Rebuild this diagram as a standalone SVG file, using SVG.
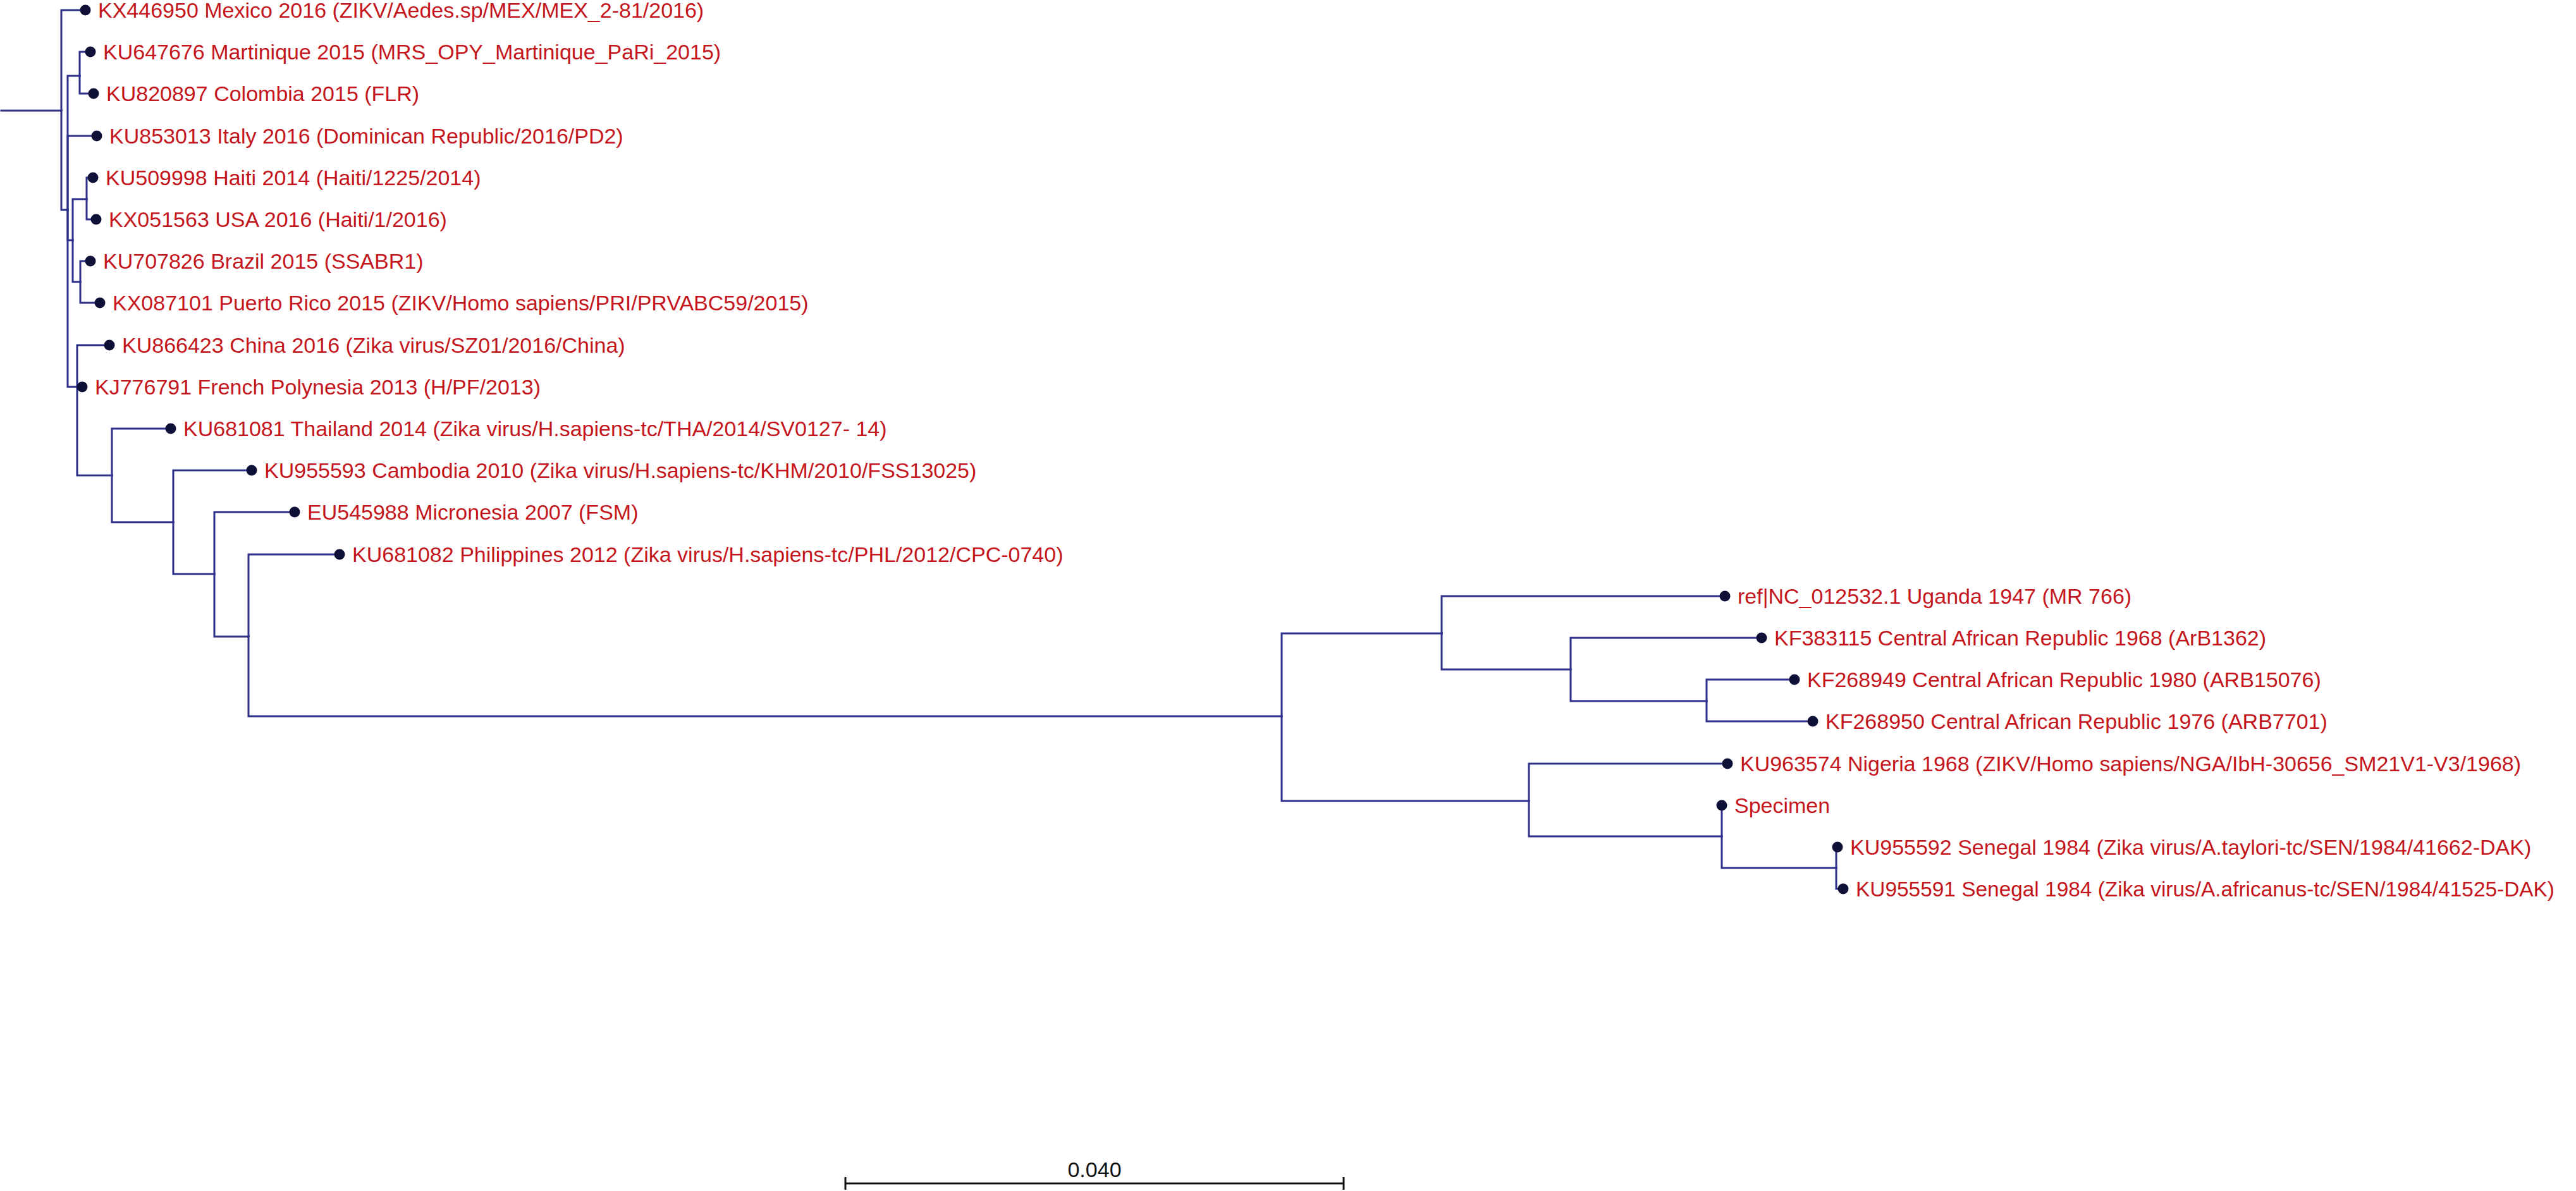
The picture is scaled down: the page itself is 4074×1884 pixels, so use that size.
<svg xmlns="http://www.w3.org/2000/svg" width="4074" height="1884" viewBox="0 0 4074 1884">
<style>
.e{fill:none;stroke:#2f2f8c;stroke-width:3;stroke-linecap:square}
.d{fill:#0f1038}
.t{font-family:"Liberation Sans",Arial,sans-serif;font-size:34px;fill:#c4161c}
.s{fill:none;stroke:#111;stroke-width:3}
.sl{font-family:"Liberation Sans",Arial,sans-serif;font-size:34px;fill:#111}
</style>
<rect width="4074" height="1884" fill="#fff"/>
<g id="connectors">
<path class="e" d="M2,175 H97"/>
<path class="e" d="M97,175 V16 H135"/>
<path class="e" d="M97,175 V332 H107"/>
<path class="e" d="M107,332 V120 H126"/>
<path class="e" d="M107,332 V215 H153"/>
<path class="e" d="M107,332 V380 H115"/>
<path class="e" d="M107,332 V612 H122"/>
<path class="e" d="M126,120 V82 H143"/>
<path class="e" d="M126,120 V148 H148"/>
<path class="e" d="M115,380 V315 H137"/>
<path class="e" d="M115,380 V446 H127"/>
<path class="e" d="M137,315 V281 H147"/>
<path class="e" d="M137,315 V347 H152"/>
<path class="e" d="M127,446 V413 H143"/>
<path class="e" d="M127,446 V479 H158"/>
<path class="e" d="M122,612 V546 H173"/>
<path class="e" d="M122,612 V612 H130"/>
<path class="e" d="M122,612 V752 H177"/>
<path class="e" d="M177,752 V678 H270"/>
<path class="e" d="M177,752 V826 H274"/>
<path class="e" d="M274,826 V744 H398"/>
<path class="e" d="M274,826 V908 H339"/>
<path class="e" d="M339,908 V810 H466"/>
<path class="e" d="M339,908 V1007 H393"/>
<path class="e" d="M393,1007 V877 H537"/>
<path class="e" d="M393,1007 V1133 H2027"/>
<path class="e" d="M2027,1133 V1002 H2280"/>
<path class="e" d="M2027,1133 V1267 H2418"/>
<path class="e" d="M2280,1002 V943 H2728"/>
<path class="e" d="M2280,1002 V1059 H2484"/>
<path class="e" d="M2484,1059 V1009 H2786"/>
<path class="e" d="M2484,1059 V1109 H2699"/>
<path class="e" d="M2699,1109 V1075 H2838"/>
<path class="e" d="M2699,1109 V1141 H2867"/>
<path class="e" d="M2418,1267 V1208 H2732"/>
<path class="e" d="M2418,1267 V1323 H2723"/>
<path class="e" d="M2723,1323 V1274"/>
<path class="e" d="M2723,1323 V1373 H2904"/>
<path class="e" d="M2904,1373 V1340 H2906"/>
<path class="e" d="M2904,1373 V1406 H2915"/>
</g>
<g id="n1"><circle class="d" cx="135" cy="16" r="8.5"/><text class="t" x="155" y="28">KX446950 Mexico 2016 (ZIKV/Aedes.sp/MEX/MEX_2-81/2016)</text></g>
<g id="n2"><circle class="d" cx="143" cy="82" r="8.5"/><text class="t" x="163" y="94">KU647676 Martinique 2015 (MRS_OPY_Martinique_PaRi_2015)</text></g>
<g id="n3"><circle class="d" cx="148" cy="148" r="8.5"/><text class="t" x="168" y="160">KU820897 Colombia 2015 (FLR)</text></g>
<g id="n4"><circle class="d" cx="153" cy="215" r="8.5"/><text class="t" x="173" y="227">KU853013 Italy 2016 (Dominican Republic/2016/PD2)</text></g>
<g id="n5"><circle class="d" cx="147" cy="281" r="8.5"/><text class="t" x="167" y="293">KU509998 Haiti 2014 (Haiti/1225/2014)</text></g>
<g id="n6"><circle class="d" cx="152" cy="347" r="8.5"/><text class="t" x="172" y="359">KX051563 USA 2016 (Haiti/1/2016)</text></g>
<g id="n7"><circle class="d" cx="143" cy="413" r="8.5"/><text class="t" x="163" y="425">KU707826 Brazil 2015 (SSABR1)</text></g>
<g id="n8"><circle class="d" cx="158" cy="479" r="8.5"/><text class="t" x="178" y="491">KX087101 Puerto Rico 2015 (ZIKV/Homo sapiens/PRI/PRVABC59/2015)</text></g>
<g id="n9"><circle class="d" cx="173" cy="546" r="8.5"/><text class="t" x="193" y="558">KU866423 China 2016 (Zika virus/SZ01/2016/China)</text></g>
<g id="n10"><circle class="d" cx="130" cy="612" r="8.5"/><text class="t" x="150" y="624">KJ776791 French Polynesia 2013 (H/PF/2013)</text></g>
<g id="n11"><circle class="d" cx="270" cy="678" r="8.5"/><text class="t" x="290" y="690">KU681081 Thailand 2014 (Zika virus/H.sapiens-tc/THA/2014/SV0127- 14)</text></g>
<g id="n12"><circle class="d" cx="398" cy="744" r="8.5"/><text class="t" x="418" y="756">KU955593 Cambodia 2010 (Zika virus/H.sapiens-tc/KHM/2010/FSS13025)</text></g>
<g id="n13"><circle class="d" cx="466" cy="810" r="8.5"/><text class="t" x="486" y="822">EU545988 Micronesia 2007 (FSM)</text></g>
<g id="n14"><circle class="d" cx="537" cy="877" r="8.5"/><text class="t" x="557" y="889">KU681082 Philippines 2012 (Zika virus/H.sapiens-tc/PHL/2012/CPC-0740)</text></g>
<g id="n15"><circle class="d" cx="2728" cy="943" r="8.5"/><text class="t" x="2748" y="955">ref|NC_012532.1 Uganda 1947 (MR 766)</text></g>
<g id="n16"><circle class="d" cx="2786" cy="1009" r="8.5"/><text class="t" x="2806" y="1021">KF383115 Central African Republic 1968 (ArB1362)</text></g>
<g id="n17"><circle class="d" cx="2838" cy="1075" r="8.5"/><text class="t" x="2858" y="1087">KF268949 Central African Republic 1980 (ARB15076)</text></g>
<g id="n18"><circle class="d" cx="2867" cy="1141" r="8.5"/><text class="t" x="2887" y="1153">KF268950 Central African Republic 1976 (ARB7701)</text></g>
<g id="n19"><circle class="d" cx="2732" cy="1208" r="8.5"/><text class="t" x="2752" y="1220" textLength="1235" lengthAdjust="spacingAndGlyphs">KU963574 Nigeria 1968 (ZIKV/Homo sapiens/NGA/IbH-30656_SM21V1-V3/1968)</text></g>
<g id="n20"><circle class="d" cx="2723" cy="1274" r="8.5"/><text class="t" x="2743" y="1286">Specimen</text></g>
<g id="n21"><circle class="d" cx="2906" cy="1340" r="8.5"/><text class="t" x="2926" y="1352">KU955592 Senegal 1984 (Zika virus/A.taylori-tc/SEN/1984/41662-DAK)</text></g>
<g id="n22"><circle class="d" cx="2915" cy="1406" r="8.5"/><text class="t" x="2935" y="1418" textLength="1105" lengthAdjust="spacingAndGlyphs">KU955591 Senegal 1984 (Zika virus/A.africanus-tc/SEN/1984/41525-DAK)</text></g>
<g id="scale">
<path class="s" d="M1337,1872 H2125 M1337,1862 V1882 M2125,1862 V1882"/>
<text class="sl" x="1731" y="1862" text-anchor="middle">0.040</text>
</g>
</svg>
